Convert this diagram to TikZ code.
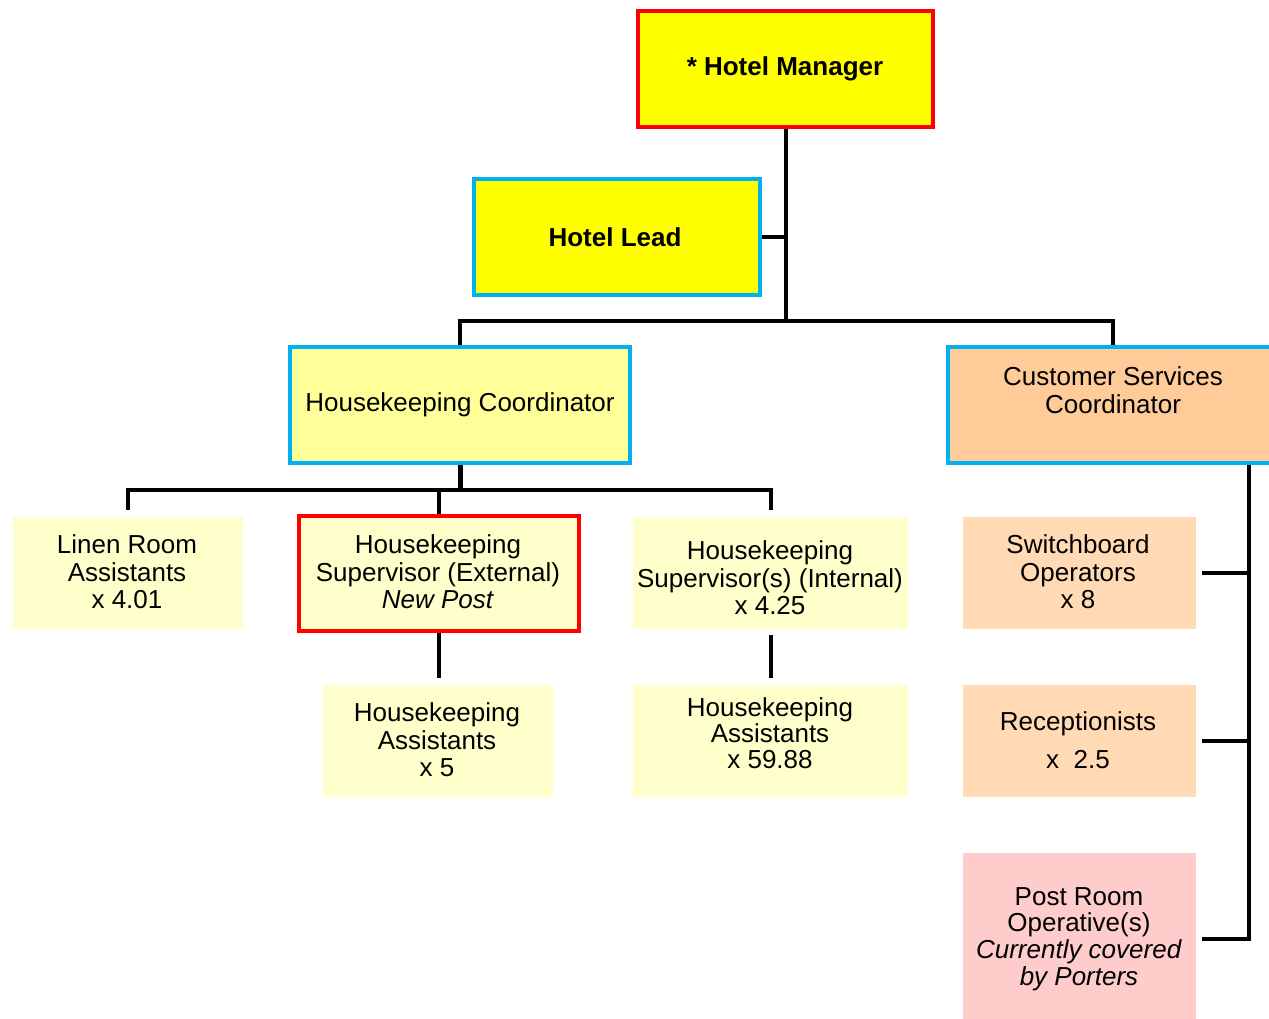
\documentclass[tikz,border=0pt]{standalone}
\usepackage{fontspec}
\setmainfont{Liberation Sans}
\definecolor{cYellow}{HTML}{FFFF00}
\definecolor{cRed}{HTML}{FF0000}
\definecolor{cBlue}{HTML}{00B0F0}
\definecolor{cHC}{HTML}{FFFF99}
\definecolor{cLight}{HTML}{FFFFCC}
\definecolor{cCS}{HTML}{FFCC99}
\definecolor{cOrange}{HTML}{FFDAB5}
\definecolor{cPink}{HTML}{FFCCCC}
\tikzset{
  boxbase/.style={inner sep=0pt, rectangle},
  redbox/.style={boxbase, draw=cRed, line width=4pt},
  bluebox/.style={boxbase, draw=cBlue, line width=4pt},
  plainbox/.style={boxbase},
  txt/.style={inner sep=0pt, align=center, font=\fontsize{26}{27.5}\selectfont},
  conn/.style={draw=black, line width=4pt},
}
\begin{document}
\begin{tikzpicture}[x=1pt,y=-1pt]
\clip (0,0) rectangle (1269,1019);
\fill[white] (0,0) rectangle (1269,1019);
% boxes
\node[redbox, fill=cYellow, minimum width=295, minimum height=116] (hm) at (785.5,69) {};
\node[bluebox, fill=cYellow, minimum width=286, minimum height=116] (hl) at (617,237) {};
\node[bluebox, fill=cHC, minimum width=340, minimum height=116] (hc) at (460,405) {};
\node[bluebox, fill=cCS, minimum width=330, minimum height=116] (cs) at (1113,405) {};
\node[plainbox, fill=cLight, minimum width=230, minimum height=112] (lr) at (128,573) {};
\node[redbox, fill=cLight, minimum width=280, minimum height=115] (hse) at (439,573.5) {};
\node[plainbox, fill=cLight, minimum width=275, minimum height=112] (hsi) at (770.5,573) {};
\node[plainbox, fill=cLight, minimum width=230, minimum height=112] (ha1) at (438,741) {};
\node[plainbox, fill=cLight, minimum width=275, minimum height=112] (ha2) at (770.5,741) {};
\node[plainbox, fill=cOrange, minimum width=233, minimum height=112] (sw) at (1079.5,573) {};
\node[plainbox, fill=cOrange, minimum width=233, minimum height=112] (rc) at (1079.5,741) {};
\node[plainbox, fill=cPink, minimum width=233, minimum height=170] (pr) at (1079.5,938) {};
% texts
\node[txt, font=\fontsize{26}{27.5}\selectfont\bfseries] (hmT) at (785,69) {* Hotel Manager};
\node[txt, font=\fontsize{26}{27.5}\selectfont\bfseries] (hlT) at (615,237) {Hotel Lead};
\node[txt] (hcT) at (460,405) {Housekeeping Coordinator};
\node[txt] (csT) at (1113,390) {Customer Services\\Coordinator};
\node[txt] (lrT) at (127,572) {Linen Room\\Assistants\\x 4.01};
\node[txt] (hseT) at (438,572) {Housekeeping\\Supervisor (External)\\\textit{New Post}};
\node[txt] (hsiT) at (770,578) {Housekeeping\\Supervisor(s) (Internal)\\x 4.25};
\node[txt] (ha1T) at (437,740) {Housekeeping\\Assistants\\x 5};
\node[txt, font=\fontsize{26}{26}\selectfont] (ha2T) at (770,733) {Housekeeping\\Assistants\\x 59.88};
\node[txt] (swT) at (1078,572) {Switchboard\\Operators\\x 8};
\node[txt, font=\fontsize{26}{38}\selectfont] (rcT) at (1078,740) {Receptionists\\x~~2.5};
\node[txt, font=\fontsize{26}{26.7}\selectfont] (prT) at (1079,939) {Post Room\\Operative(s)\\\textit{Currently covered}\\\textit{by Porters}};
% connectors
\coordinate (j1) at (785.5,321);
\draw[conn] (hm.south) -- (j1);
\draw[conn] (hl.east) -- (hl.east -| j1);
\draw[conn] (hc.north) |- (j1) -| (cs.north);
\coordinate (j2) at (460,490);
\draw[conn, line width=5pt] (hc.south) -- (j2);
\draw[conn] ([yshift=7]lr.north) |- (j2) -| ([yshift=7]hsi.north);
\draw[conn] (hse.north) -- (hse.north |- j2);
\draw[conn] (hse.south) -- ([yshift=7]ha1.north -| hse.south);
\draw[conn] ([yshift=-6]hsi.south) -- ([yshift=7]ha2.north);
\coordinate (v) at (1249,939);
\draw[conn] (cs.south -| v) -- (v) -- ([xshift=6]pr.east |- v);
\draw[conn] ([xshift=6]sw.east) -- (sw.east -| v);
\draw[conn] ([xshift=6]rc.east) -- (rc.east -| v);
\end{tikzpicture}
\end{document}
